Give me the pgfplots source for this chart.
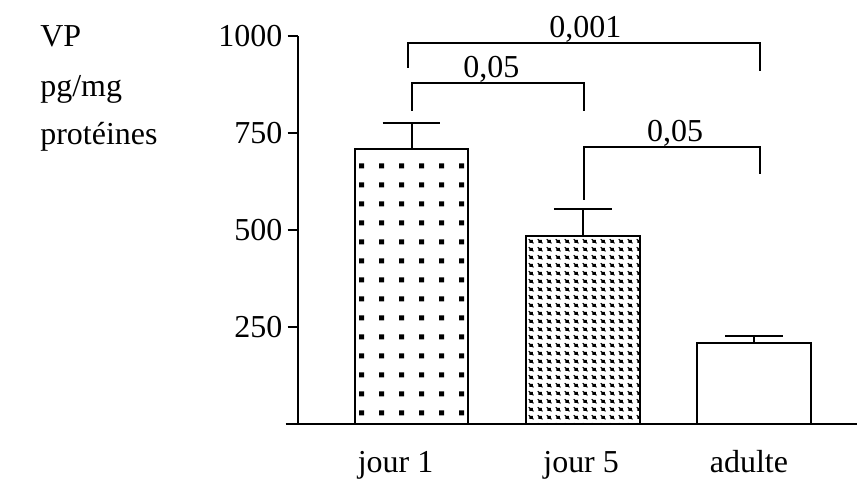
\documentclass[border=0pt]{standalone}
\usepackage{fontspec}
\setmainfont{Liberation Serif}
\usepackage{pgfplots}
\pgfplotsset{compat=1.18}
\usetikzlibrary{patterns}
\pgfdeclarepatternformonly{bigdots}{\pgfqpoint{0pt}{0pt}}{\pgfqpoint{9.8pt}{9.6pt}}{\pgfqpoint{9.8pt}{9.6pt}}{%
  \pgfpathrectangle{\pgfqpoint{3.6pt}{3.5pt}}{\pgfqpoint{2.6pt}{2.6pt}}\pgfusepath{fill}}
\pgfdeclarepatternformonly{densedots}{\pgfqpoint{0pt}{0pt}}{\pgfqpoint{4.4pt}{4.2pt}}{\pgfqpoint{4.4pt}{4.2pt}}{%
  \pgfpathrectangle{\pgfqpoint{1.2pt}{1.2pt}}{\pgfqpoint{1.8pt}{1.5pt}}\pgfusepath{fill}%
  \pgfpathmoveto{\pgfqpoint{0.9pt}{3.1pt}}\pgflineto{\pgfqpoint{3.3pt}{0.9pt}}\pgfsetlinewidth{0.5pt}\pgfusepath{stroke}}
\newcommand\lf{\fontsize{16}{19}\selectfont}
\begin{document}
\begin{tikzpicture}[font=\lf]
\path (0,0) rectangle (429pt,236pt);
\begin{axis}[
  at={(149pt,24pt)}, anchor=south west,
  scale only axis, width=280pt, height=194pt,
  xmin=-0.6647, xmax=2.6006, ymin=0, ymax=1000,
  axis x line=bottom, axis y line=left,
  axis line style={line width=1pt,-},
  ytick={250,500,750,1000},
  tick align=outside, major tick length=5pt,
  y tick style={line width=1pt,black},
  x tick style={draw=none},
  xtick={-0.093,0.99,1.97},
  xticklabels={jour 1,jour 5,adulte},
  tick label style={font=\lf},
  /pgf/number format/assume math mode=true,
  /pgf/number format/1000 sep={},
  yticklabel style={inner sep=0pt, xshift=-2.5pt},
  xticklabel style={anchor=base, inner sep=0pt, yshift=-19.5pt},
  clip=false,
]
\addplot[ybar, bar shift=0pt, bar width=0.6647, draw=black, line width=1pt, pattern=bigdots, pattern color=black,
  error bars/.cd, y dir=plus, y explicit, error mark=-, error mark options={rotate=90, mark size=14.5pt, line width=1pt}, error bar style={line width=1pt}]
  coordinates {(0,709) +- (0,67)};
\addplot[ybar, bar shift=0pt, bar width=0.6647, draw=black, line width=1pt, pattern=densedots, pattern color=black,
  error bars/.cd, y dir=plus, y explicit, error mark=-, error mark options={rotate=90, mark size=14.5pt, line width=1pt}, error bar style={line width=1pt}]
  coordinates {(1,485) +- (0,69)};
\addplot[ybar, bar shift=0pt, bar width=0.6647, draw=black, line width=1pt, fill=white,
  error bars/.cd, y dir=plus, y explicit, error mark=-, error mark options={rotate=90, mark size=14.5pt, line width=1pt}, error bar style={line width=1pt}]
  coordinates {(2,209) +- (0,18)};
% extension of x axis to the left of y axis
\draw[line width=1pt] (axis cs:-0.7347,0) -- (axis cs:-0.6647,0);
% significance brackets
\draw[line width=1pt] (axis cs:-0.023,918) -- (axis cs:-0.023,982) -- (axis cs:2.035,982) -- (axis cs:2.035,910);
\node[anchor=base] at (axis cs:1.015,995) {0,001};
\draw[line width=1pt] (axis cs:0,807) -- (axis cs:0,879) -- (axis cs:1.009,879) -- (axis cs:1.009,807);
\node[anchor=base] at (axis cs:0.466,892) {0,05};
\draw[line width=1pt] (axis cs:1.009,577) -- (axis cs:1.009,714) -- (axis cs:2.035,714) -- (axis cs:2.035,644);
\node[anchor=base] at (axis cs:1.539,727) {0,05};
\end{axis}
\node[anchor=base west, inner sep=0pt] at (20pt,212.5pt) {VP};
\node[anchor=base west, inner sep=0pt] at (20pt,187.5pt) {pg/mg};
\node[anchor=base west, inner sep=0pt] at (20pt,163.5pt) {protéines};
\end{tikzpicture}
\end{document}
